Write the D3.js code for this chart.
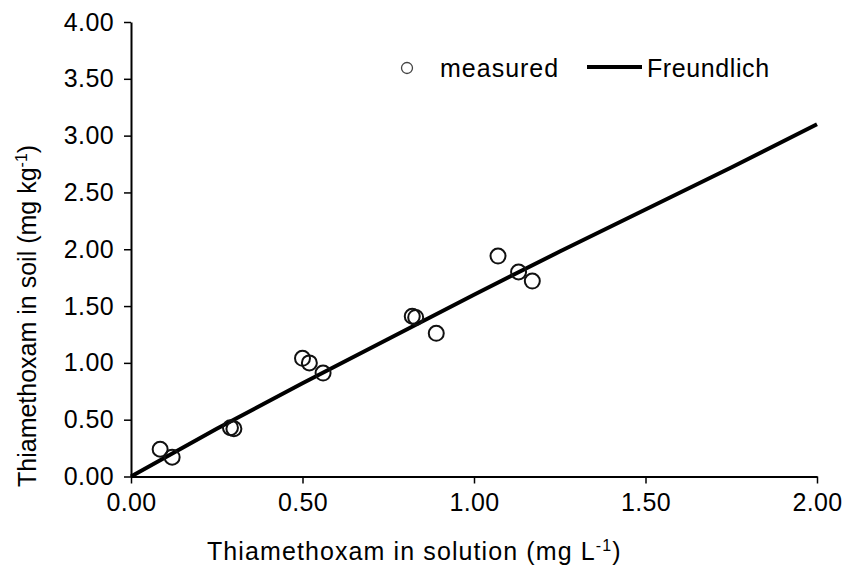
<!DOCTYPE html>
<html>
<head>
<meta charset="utf-8">
<script src="https://cdn.jsdelivr.net/npm/d3@7"></script>
<style>
  body { margin: 0; background: #fff; }
  svg text { font-family: "Liberation Sans", Arial, sans-serif; fill: #000; }
</style>
</head>
<body>
<svg id="chart" width="846" height="569"></svg>
<script>
// measured points
const measuredX = [0.085, 0.12, 0.29, 0.30, 0.50, 0.52, 0.56, 0.82, 0.83, 0.89, 1.07, 1.13, 1.17];
const measuredY = [0.24, 0.17, 0.43, 0.42, 1.04, 1.00, 0.91, 1.41, 1.40, 1.26, 1.94, 1.80, 1.72];

// Freundlich curve, read at these x values
const fitX = [0, 0.25, 0.50, 0.75, 1.00, 1.25, 1.50, 1.75, 2.00];
const fitY = [0, 0.42, 0.82, 1.21, 1.60, 1.98, 2.35, 2.72, 3.10];

const xTicks = [0, 0.5, 1.0, 1.5, 2.0];
const yTicks = [0, 0.5, 1.0, 1.5, 2.0, 2.5, 3.0, 3.5, 4.0];

const svg = d3.select('#chart');
const margin = { top: 22, left: 131, right: 29, bottom: 92.5 };
const width = +svg.attr('width');
const height = +svg.attr('height');

const xScale = d3.scaleLinear()
    .domain([0, 2])
    .range([margin.left, width - margin.right]);
const yScale = d3.scaleLinear()
    .domain([0, 4])
    .range([height - margin.bottom, margin.top]);

const fmt = d3.format('.2f');

// axes
const xAxis = d3.axisBottom(xScale).tickValues(xTicks).tickFormat(fmt).tickSizeOuter(0).tickSizeInner(7).tickPadding(10);
const gx = svg.append('g')
    .attr('transform', `translate(0,${yScale(0)})`)
    .call(xAxis);
gx.select('.domain').attr('stroke-width', 2);
gx.selectAll('.tick line').attr('stroke-width', 1.5);
gx.selectAll('.tick text')
    .attr('font-size', 25)
    .attr('font-family', '"Liberation Sans", Arial, sans-serif')
    .attr('letter-spacing', 0.4)
    .attr('dy', '0.71em');

const yAxis = d3.axisLeft(yScale).tickValues(yTicks).tickFormat(fmt).tickSizeOuter(0).tickSizeInner(7).tickPadding(10);
const gy = svg.append('g')
    .attr('transform', `translate(${xScale(0)},0)`)
    .call(yAxis);
gy.select('.domain').attr('stroke-width', 2);
gy.selectAll('.tick line').attr('stroke-width', 1.5);
gy.selectAll('.tick text')
    .attr('font-size', 25)
    .attr('font-family', '"Liberation Sans", Arial, sans-serif')
    .attr('letter-spacing', 0.4);

// Freundlich line
const fitData = fitX.map((x, i) => ({ x: x, y: fitY[i] }));
const line = d3.line()
    .x(d => xScale(d.x))
    .y(d => yScale(d.y));
svg.append('path')
    .datum(fitData)
    .attr('fill', 'none')
    .attr('stroke', '#000')
    .attr('stroke-width', 4)
    .attr('d', line);

// measured circles
const pts = measuredX.map((x, i) => ({ x: x, y: measuredY[i] }));
svg.append('g').selectAll('circle')
    .data(pts)
    .enter()
    .append('circle')
    .attr('cx', d => xScale(d.x))
    .attr('cy', d => yScale(d.y))
    .attr('r', 7.5)
    .attr('fill', 'none')
    .attr('stroke', '#111')
    .attr('stroke-width', 2);

// legend
const legend = svg.append('g');
legend.append('circle')
    .attr('cx', 407).attr('cy', 68)
    .attr('r', 5.5)
    .attr('fill', 'none')
    .attr('stroke', '#444')
    .attr('stroke-width', 1.3);
legend.append('text')
    .attr('x', 440).attr('y', 77)
    .attr('font-size', 25)
    .attr('letter-spacing', 1)
    .text('measured');
legend.append('line')
    .attr('x1', 587).attr('x2', 642)
    .attr('y1', 67).attr('y2', 67)
    .attr('stroke', '#000')
    .attr('stroke-width', 4);
legend.append('text')
    .attr('x', 647).attr('y', 77)
    .attr('font-size', 25)
    .attr('letter-spacing', 0.6)
    .text('Freundlich');

// axis titles
const xTitle = svg.append('text')
    .attr('x', 207).attr('y', 560)
    .attr('font-size', 25)
    .attr('letter-spacing', 1.1);
xTitle.append('tspan').text('Thiamethoxam in solution (mg L');
xTitle.append('tspan').attr('font-size', 16).attr('dy', -9).text('-1');
xTitle.append('tspan').attr('dy', 9).text(')');

const yTitle = svg.append('text')
    .attr('transform', 'translate(36,487) rotate(-90)')
    .attr('font-size', 25)
    .attr('letter-spacing', 0);
yTitle.append('tspan').text('Thiamethoxam in soil (mg kg');
yTitle.append('tspan').attr('font-size', 16).attr('dy', -9).text('-1');
yTitle.append('tspan').attr('dy', 9).text(')');
</script>
</body>
</html>
